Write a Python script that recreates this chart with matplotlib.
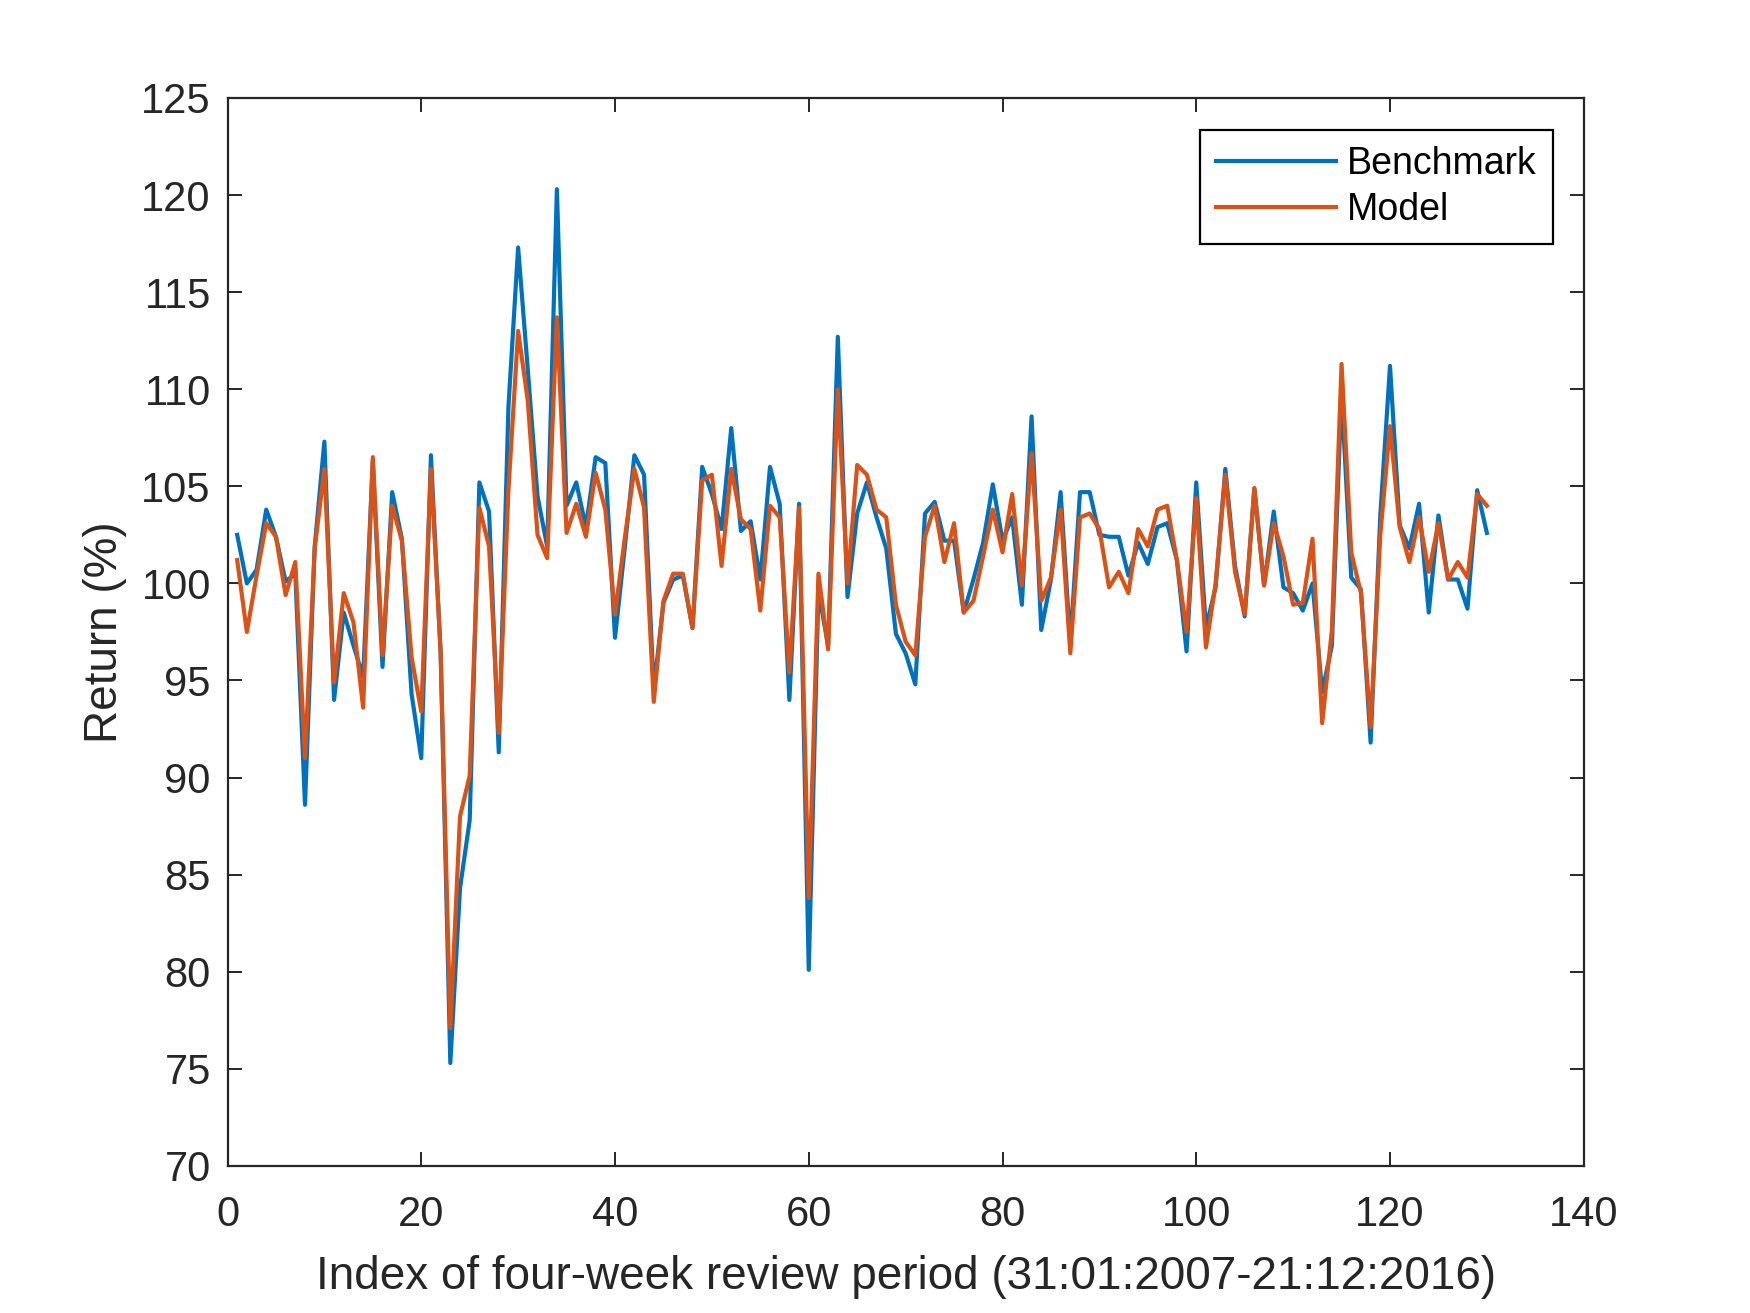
import matplotlib
matplotlib.use('Agg')
import matplotlib.pyplot as plt
from matplotlib import rcParams

rcParams['font.family'] = ['Liberation Sans', 'DejaVu Sans']

period = list(range(1, 131))

benchmark = [
    102.5, 100.0, 100.7, 103.8, 102.4, 100.1, 100.5, 88.6, 101.9, 107.3,
    94.0, 98.5, 96.8, 95.2, 106.3, 95.7, 104.7, 102.3, 94.3, 91.0,
    106.6, 96.4, 75.3, 84.3, 87.8, 105.2, 103.7, 91.3, 109.1, 117.3,
    111.0, 104.5, 101.9, 120.3, 104.0, 105.2, 102.9, 106.5, 106.2, 97.2,
    101.8, 106.6, 105.6, 94.5, 99.0, 100.2, 100.4, 97.7, 106.0, 104.6,
    102.8, 108.0, 102.7, 103.2, 100.2, 106.0, 104.1, 94.0, 104.1, 80.1,
    99.6, 96.8, 112.7, 99.3, 103.6, 105.2, 103.4, 101.8, 97.4, 96.4,
    94.8, 103.6, 104.2, 102.2, 102.2, 98.5, 100.2, 102.1, 105.1, 102.2,
    103.4, 98.9, 108.6, 97.6, 100.2, 104.7, 96.9, 104.7, 104.7, 102.5,
    102.4, 102.4, 100.4, 102.1, 101.0, 102.9, 103.1, 101.2, 96.5, 105.2,
    97.7, 99.8, 105.9, 100.9, 98.3, 104.9, 99.9, 103.7, 99.8, 99.5,
    98.6, 100.0, 94.4, 96.8, 109.8, 100.3, 99.7, 91.8, 103.5, 111.2,
    103.0, 101.8, 104.1, 98.5, 103.5, 100.2, 100.2, 98.7, 104.8, 102.6,
]

model = [
    101.2, 97.5, 100.4, 103.1, 102.4, 99.4, 101.1, 91.0, 101.8, 105.9,
    94.9, 99.5, 98.0, 93.6, 106.5, 96.3, 104.0, 102.2, 96.2, 93.4,
    105.9, 96.5, 77.1, 88.0, 90.1, 103.9, 101.9, 92.3, 104.8, 113.0,
    109.4, 102.5, 101.3, 113.7, 102.6, 104.1, 102.4, 105.7, 103.8, 98.4,
    102.3, 105.9, 103.9, 93.9, 99.1, 100.5, 100.5, 97.7, 105.3, 105.6,
    100.9, 105.9, 103.3, 102.8, 98.6, 104.0, 103.4, 95.4, 103.9, 83.8,
    100.5, 96.6, 110.0, 100.0, 106.1, 105.6, 103.8, 103.4, 98.9, 97.0,
    96.3, 102.4, 104.0, 101.1, 103.1, 98.5, 99.1, 101.4, 103.8, 101.6,
    104.6, 99.9, 106.7, 99.1, 100.3, 103.8, 96.4, 103.4, 103.6, 102.8,
    99.8, 100.6, 99.5, 102.8, 101.9, 103.8, 104.0, 101.2, 97.5, 104.4,
    96.7, 100.0, 105.6, 100.6, 98.4, 104.9, 99.9, 103.1, 101.4, 98.9,
    99.0, 102.3, 92.8, 97.6, 111.3, 101.6, 99.5, 92.6, 102.5, 108.1,
    102.9, 101.1, 103.4, 100.6, 103.1, 100.2, 101.1, 100.3, 104.6, 104.0,
]

xticks = list(range(0, 141, 20))
yticks = list(range(70, 126, 5))

axcol = '#262626'

fig = plt.figure(figsize=(8.75, 6.565), dpi=200)
ax = fig.add_axes([0.13, 0.112, 0.775, 0.8134])

ax.plot(period, benchmark, color='#0072BD', lw=1.5, label='Benchmark')
ax.plot(period, model, color='#D95319', lw=1.5, label='Model')

ax.set_xlim(0, 140)
ax.set_ylim(70, 125)
ax.set_xticks(xticks)
ax.set_yticks(yticks)
ax.tick_params(direction='in', length=5, width=0.7, colors=axcol,
               labelsize=15, top=True, right=True, pad=6)
ax.tick_params(axis='x', pad=10.5)
for s in ax.spines.values():
    s.set_color(axcol)
    s.set_linewidth(0.8)

ax.set_xlabel('Index of four-week review period (31:01:2007-21:12:2016)',
              fontsize=16.5, color=axcol, labelpad=7)
ax.set_ylabel('Return (%)', fontsize=16.5, color=axcol, labelpad=5)

leg = ax.legend(loc='upper right', bbox_to_anchor=(0.977, 0.970),
                borderaxespad=0, fontsize=13.5, fancybox=False,
                framealpha=1, edgecolor='black', handlelength=3.2,
                handletextpad=0.3, borderpad=0.42, labelspacing=0.28)
leg.get_frame().set_linewidth(0.8)
for t in leg.get_texts():
    t.set_color('black')

plt.savefig('out.png', dpi=200)
